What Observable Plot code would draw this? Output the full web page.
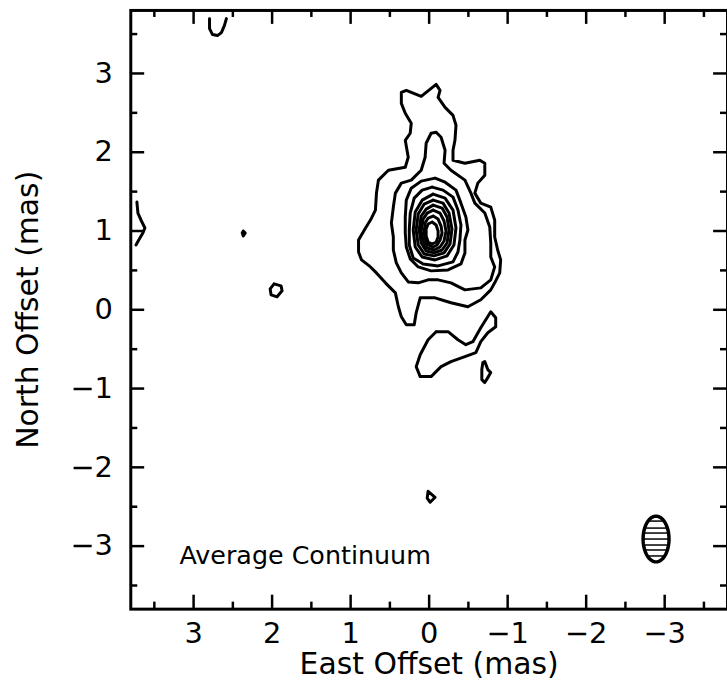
<!DOCTYPE html>
<html><head><meta charset="utf-8">
<script src="https://cdn.jsdelivr.net/npm/d3@7"></script>
<script src="https://cdn.jsdelivr.net/npm/@observablehq/plot@0.6"></script>
<style>
html,body{margin:0;padding:0;background:#fff;overflow:hidden;}
#chart{width:727px;height:698px;overflow:hidden;}
</style></head><body><div id="chart"></div>
<script>
// Axis ticks (mas)
const majorTicks = [3, 2, 1, 0, -1, -2, -3];
const minorTicks = [3.5, 2.5, 1.5, 0.5, -0.5, -1.5, -2.5, -3.5];
const xTickLabels = [3, 2, 1, 0, -1, -2, -3];
const yTickLabels = [3, 2, 1, 0, -1, -2, -3];

const contour1 = [[0.354,2.759],[0.291,2.785],[0.101,2.709],[-0.089,2.861],[-0.139,2.785],[-0.114,2.696],[-0.203,2.570],[-0.304,2.468],[-0.342,2.342],[-0.329,2.152],[-0.304,2.025],[-0.304,1.899],[-0.456,1.861],[-0.646,1.899],[-0.709,1.861],[-0.709,1.709],[-0.620,1.608],[-0.582,1.481],[-0.658,1.354],[-0.785,1.304],[-0.835,1.139],[-0.835,0.924],[-0.873,0.759],[-0.911,0.633],[-0.899,0.468],[-0.835,0.342],[-0.785,0.253],[-0.658,0.127],[-0.494,0.038],[-0.278,0.089],[-0.076,0.152],[0.114,0.152],[0.165,-0.038],[0.190,-0.190],[0.291,-0.190],[0.354,-0.089],[0.392,0.038],[0.430,0.215],[0.557,0.342],[0.671,0.468],[0.747,0.544],[0.861,0.633],[0.899,0.734],[0.899,0.886],[0.810,1.038],[0.747,1.139],[0.684,1.266],[0.671,1.481],[0.646,1.646],[0.519,1.772],[0.304,1.810],[0.266,1.937],[0.304,2.152],[0.241,2.241],[0.228,2.367],[0.304,2.494],[0.354,2.620]];
const contour2 = [[-0.089,2.253],[-0.152,2.190],[-0.203,2.025],[-0.190,1.861],[-0.278,1.772],[-0.456,1.646],[-0.532,1.481],[-0.582,1.354],[-0.709,1.228],[-0.772,1.051],[-0.785,0.848],[-0.785,0.671],[-0.835,0.544],[-0.785,0.380],[-0.658,0.278],[-0.456,0.253],[-0.278,0.342],[-0.114,0.380],[0.013,0.380],[0.139,0.342],[0.266,0.354],[0.354,0.468],[0.418,0.595],[0.456,0.759],[0.456,0.924],[0.481,1.101],[0.456,1.304],[0.430,1.481],[0.354,1.608],[0.228,1.646],[0.101,1.772],[0.051,1.937],[0.038,2.114],[-0.025,2.241]];
const contour3 = [[-0.076,1.671],[-0.203,1.620],[-0.342,1.519],[-0.405,1.354],[-0.468,1.177],[-0.494,1.013],[-0.456,0.886],[-0.456,0.722],[-0.405,0.582],[-0.241,0.506],[-0.025,0.494],[0.139,0.544],[0.241,0.646],[0.291,0.797],[0.304,0.975],[0.304,1.177],[0.291,1.392],[0.228,1.544],[0.101,1.633]];
const contour4 = [[-0.038,1.557],[-0.177,1.519],[-0.304,1.430],[-0.367,1.266],[-0.405,1.076],[-0.392,0.886],[-0.367,0.734],[-0.304,0.608],[-0.114,0.557],[0.076,0.582],[0.203,0.658],[0.253,0.823],[0.253,1.013],[0.241,1.228],[0.190,1.418],[0.089,1.519]];
const contour5 = [[-0.051,1.468],[-0.203,1.418],[-0.304,1.266],[-0.342,1.038],[-0.316,0.823],[-0.228,0.684],[-0.076,0.633],[0.089,0.671],[0.177,0.797],[0.203,1.013],[0.177,1.241],[0.089,1.392]];
const contour6 = [[-0.051,1.392],[-0.177,1.354],[-0.253,1.228],[-0.291,1.025],[-0.266,0.835],[-0.190,0.722],[-0.063,0.684],[0.063,0.709],[0.139,0.823],[0.165,1.013],[0.139,1.215],[0.063,1.342]];
const contour7 = [[-0.051,1.329],[-0.165,1.291],[-0.228,1.177],[-0.253,1.013],[-0.228,0.848],[-0.165,0.759],[-0.063,0.722],[0.038,0.747],[0.101,0.848],[0.127,1.013],[0.101,1.190],[0.038,1.278]];
const contour8 = [[-0.051,1.266],[-0.139,1.228],[-0.190,1.127],[-0.215,1.000],[-0.190,0.873],[-0.139,0.797],[-0.063,0.759],[0.025,0.785],[0.076,0.873],[0.101,1.000],[0.076,1.152],[0.025,1.228]];
const contour9 = [[-0.051,1.190],[-0.114,1.152],[-0.152,1.063],[-0.165,0.975],[-0.139,0.886],[-0.101,0.823],[-0.051,0.797],[0.013,0.823],[0.051,0.899],[0.063,0.987],[0.051,1.101],[0.013,1.165]];
const contour10 = [[-0.038,1.114],[-0.089,1.076],[-0.114,1.000],[-0.114,0.924],[-0.089,0.861],[-0.038,0.835],[0.013,0.861],[0.038,0.937],[0.038,1.025],[0.013,1.089]];
const southLobe = [[-0.089,-0.278],[-0.241,-0.278],[-0.367,-0.380],[-0.468,-0.443],[-0.557,-0.405],[-0.658,-0.228],[-0.785,-0.025],[-0.848,-0.101],[-0.848,-0.215],[-0.747,-0.291],[-0.658,-0.405],[-0.595,-0.544],[-0.456,-0.595],[-0.278,-0.658],[-0.152,-0.722],[-0.025,-0.848],[0.114,-0.848],[0.165,-0.722],[0.114,-0.570],[0.013,-0.380]];
const southEastSpot = [[-0.684,-0.671],[-0.709,-0.658],[-0.747,-0.759],[-0.785,-0.797],[-0.747,-0.861],[-0.709,-0.924],[-0.671,-0.886],[-0.671,-0.759]];
const southSpot = [[0.013,-2.304],[-0.076,-2.380],[-0.013,-2.443],[0.025,-2.392]];
const westSpot = [[1.975,0.329],[1.886,0.304],[1.873,0.241],[1.937,0.165],[2.013,0.190],[2.025,0.266]];
const dotSpot = [[2.367,1.000],[2.342,0.975],[2.367,0.937],[2.380,0.975]];
const edgeArc = [[3.722,1.367],[3.709,1.228],[3.658,1.114],[3.620,1.038],[3.646,0.975],[3.684,0.911],[3.734,0.823]];
const topArc = [[2.797,3.696],[2.797,3.570],[2.759,3.494],[2.696,3.481],[2.646,3.519],[2.608,3.608],[2.582,3.696]];

// Restoring beam (centre, half-axes in mas)
const beam = {x: -2.89, y: -2.91, rx: 0.165, ry: 0.29};
const hatchOffsets = [0.228, 0.139, 0.076, 0, -0.076, -0.139, -0.215];

const closed = [contour1, contour2, contour3, contour4, contour5, contour6, contour7, contour8, contour9, contour10, southLobe, southEastSpot, southSpot, westSpot, dotSpot];
const open = [edgeArc, topArc];

const lines = [];
closed.forEach((c, i) => { c.concat([c[0]]).forEach(([x, y]) => lines.push({x, y, id: "c" + i})); });
open.forEach((c, i) => { c.forEach(([x, y]) => lines.push({x, y, id: "o" + i})); });

const beamOutline = d3.range(0, 361, 6).map(a => ({
  x: beam.x + beam.rx * Math.cos(a * Math.PI / 180),
  y: beam.y + beam.ry * Math.sin(a * Math.PI / 180)
}));
const hatch = hatchOffsets.map(o => {
  const w = beam.rx * Math.sqrt(Math.max(0, 1 - (o / beam.ry) ** 2));
  return {y: beam.y + o, x1: beam.x - w, x2: beam.x + w};
});

const D = 3.8, TL = 0.177, TS = 0.089;
const chart = Plot.plot({
  width: 731,
  height: 698,
  marginLeft: 131,
  marginRight: 0,
  marginTop: 10,
  marginBottom: 86,
  style: {fontFamily: "DejaVu Sans", fontSize: "29px", color: "#000", background: "#fff"},
  x: {domain: [D, -D], axis: null},
  y: {domain: [-D, D], axis: null},
  marks: [
    Plot.line(lines, {x: "x", y: "y", z: "id", stroke: "#000", strokeWidth: 3, strokeLinejoin: "round", strokeLinecap: "round"}),
    Plot.line(beamOutline, {x: "x", y: "y", stroke: "#000", strokeWidth: 3.5}),
    Plot.ruleY(hatch, {y: "y", x1: "x1", x2: "x2", stroke: "#000", strokeWidth: 1.5}),
    // ticks (inward, all four sides)
    Plot.ruleX(majorTicks, {x: d => d, y1: -D, y2: -D + TL, strokeWidth: 2.5}),
    Plot.ruleX(minorTicks, {x: d => d, y1: -D, y2: -D + TS, strokeWidth: 2.5}),
    Plot.ruleX(majorTicks, {x: d => d, y1: D, y2: D - TL, strokeWidth: 2.5}),
    Plot.ruleX(minorTicks, {x: d => d, y1: D, y2: D - TS, strokeWidth: 2.5}),
    Plot.ruleY(majorTicks, {y: d => d, x1: D, x2: D - TL, strokeWidth: 2.5}),
    Plot.ruleY(minorTicks, {y: d => d, x1: D, x2: D - TS, strokeWidth: 2.5}),
    Plot.ruleY(majorTicks, {y: d => d, x1: -D, x2: -D + TL, strokeWidth: 2.5}),
    Plot.ruleY(minorTicks, {y: d => d, x1: -D, x2: -D + TS, strokeWidth: 2.5}),
    Plot.frame({stroke: "#000", strokeWidth: 3}),
    Plot.axisX({ticks: xTickLabels, tickSize: 0, tickPadding: 13, fontSize: 29, label: null}),
    Plot.axisY({ticks: yTickLabels, tickSize: 0, tickPadding: 18, fontSize: 29, label: null}),
    Plot.text(["East Offset (mas)"], {frameAnchor: "bottom", dy: 56, fontSize: 30, lineAnchor: "middle", textAnchor: "middle"}),
    Plot.text(["North Offset (mas)"], {frameAnchor: "left", dx: -103, rotate: -90, fontSize: 30, lineAnchor: "middle", textAnchor: "middle"}),
    Plot.text([{x: 3.18, y: -3.13, t: "Average Continuum"}], {x: "x", y: "y", text: "t", textAnchor: "start", fontSize: 25.5, lineAnchor: "middle"})
  ]
});
document.getElementById("chart").appendChild(chart);
</script></body></html>
